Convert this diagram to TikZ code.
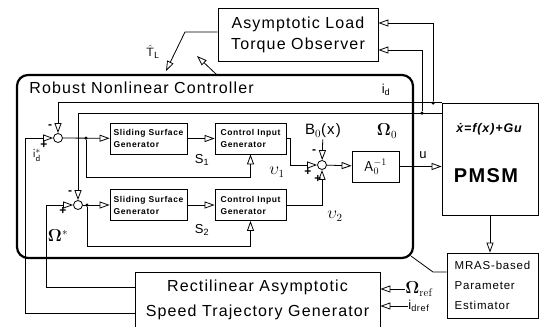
\documentclass[tikz,border=0pt]{standalone}
\usepackage[no-math]{fontspec}
\setmainfont{Liberation Sans}[LetterSpace=7]
\usetikzlibrary{arrows.meta}
\newcommand{\bigtxt}{\fontsize{16}{21}\selectfont}
\newcommand{\smalltxt}{\fontsize{8.5}{12}\selectfont\bfseries}
\begin{document}
\begin{tikzpicture}[x=1pt, y=-1pt, line width=0.8pt,
    blk/.style={draw, rectangle, inner sep=0pt, align=center},
    sblk/.style={blk, align=left, font=\smalltxt, minimum width=77pt, minimum height=31pt},
    sumj/.style={draw, circle, inner sep=0pt, minimum size=9pt},
    dot/.style={fill, circle, inner sep=0pt, minimum size=3.5pt},
    lbl/.style={inner sep=0pt, font=\fontsize{13}{14}\selectfont},
    omg/.style={inner sep=0pt, font=\fontsize{16}{16}\selectfont},
    sgn/.style={inner sep=0pt, font=\fontsize{12}{14}\selectfont\bfseries},
    tip/.style={-{Triangle[open, length=10pt, width=7pt]}}]
    \useasboundingbox (0,0) rectangle (547,327);
    % Controller frame
    \node[draw, line width=2.2pt, rounded corners=11pt, minimum width=396pt, minimum height=183pt] (ctrl) at (215,166.5) {};
    \node[anchor=west, inner sep=0pt, font=\bigtxt] (ctrltitle) at (29,88) {Robust Nonlinear Controller};
    % Blocks
    \node[blk, font=\bigtxt, minimum width=160pt, minimum height=53pt] (obs) at (298,34.5) {Asymptotic Load\\Torque Observer};
    \node[sblk] (ssg1) at (148.5,138.5) {Sliding Surface\\Generator};
    \node[sblk, minimum width=71pt] (cig1) at (250.5,138.5) {Control Input\\Generator};
    \node[sblk] (ssg2) at (148.5,205) {Sliding Surface\\Generator};
    \node[sblk, minimum width=71pt] (cig2) at (250.5,205) {Control Input\\Generator};
    \node[blk, font=\fontsize{14}{16}\selectfont, minimum width=47pt, minimum height=31pt] (ainv) at (375.5,166.5) {$\mathsf{A}_0^{-1}$};
    \node[blk, minimum width=96pt, minimum height=112pt] (pmsm) at (490,159) {};
    \node[anchor=west, inner sep=0pt, font=\fontsize{12.5}{16}\selectfont\bfseries\itshape] (pmsmeq) at (456,129) {\.{x}=f(x)+Gu};
    \node[inner sep=0pt, font=\fontsize{20}{22}\selectfont\bfseries] (pmsmname) at (486,176) {PMSM};
    \node[blk, align=left, font=\fontsize{11.5}{20}\selectfont, minimum width=91pt, minimum height=65pt] (mras) at (492.5,285.5) {MRAS-based\\Parameter\\Estimator};
    \node[blk, font=\fontsize{16}{25}\selectfont, minimum width=245pt, minimum height=56pt] (traj) at (257.5,300) {Rectilinear Asymptotic\\Speed Trajectory Generator};
    % Junctions
    \node[sumj] (sum1) at (58,138) {};
    \node[sumj] (sum2) at (78,205) {};
    \node[sumj] (sum3) at (322,165) {};
    \node[dot] (p1) at (86,138) {};
    \node[dot] (p2) at (87,205) {};
    \node[dot] (pid) at (433,103) {};
    \node[dot] (pw) at (422,113) {};
    % Labels
    \node[inner sep=1pt, font=\fontsize{15}{16}\selectfont] (bx) at (323,131) {B$_0$(x)};
    \node[lbl] (lid) at (386,90) {i\textsubscript{d}};
    \node[omg] (lw0) at (387,131) {$\mathbf{\Omega}_0$};
    \node[lbl] (lu) at (423,155) {u};
    \node[lbl] (ltl) at (153,52) {$\hat{\mathsf{T}}_{\mathsf{L}}$};
    \node[lbl] (ls1) at (202,160) {S\textsubscript{1}};
    \node[lbl] (ls2) at (202,230) {S\textsubscript{2}};
    \node[omg] (lv1) at (277,172) {$\upsilon_1$};
    \node[omg] (lv2) at (335,216) {$\upsilon_2$};
    \node[lbl] (lids) at (37,155) {$\mathsf{i}_{\mathsf{d}}^{*}$};
    \node[omg] (lws) at (58,236) {$\mathbf{\Omega}^*$};
    \node[omg, anchor=west] (wref) at (405,289) {$\mathbf{\Omega}_{\mathrm{ref}}$};
    \node[lbl, anchor=west] (idref) at (408,306) {i\textsubscript{dref}};
    % Signs
    \node[sgn] (s1m) at (50,127) {-};
    \node[sgn] (s1p) at (44,145) {+};
    \node[sgn] (s2m) at (70,193) {-};
    \node[sgn] (s2p) at (63,211) {+};
    \node[sgn] (s3m) at (314,152) {-};
    \node[sgn] (s3p) at (308,172) {+};
    \node[sgn] (s3q) at (318,179) {+};
    % Lines
    \draw[tip] (pmsm.north west) -| (sum1);
    \draw[tip] (pid) |- ([yshift=11.5pt]obs.east);
    \coordinate (w0src) at (pmsm.west |- pw);
    \draw[tip] (w0src) -| (sum2);
    \draw[tip] (pw) |- ([yshift=-15.5pt]obs.east);
    \coordinate (tlbend) at (185,32);
    \coordinate (tlend) at (166,71);
    \draw[tip] (obs.west |- tlbend) -- (tlbend) -- (tlend);
    \coordinate (fbstart) at (217,75);
    \coordinate (fbend) at (197,56);
    \draw[tip] (fbstart) -- (fbend);
    \draw[tip] ([yshift=-13pt]traj.west) -- ++(-109,0) |- (sum1);
    \draw[tip] ([yshift=13pt]traj.west) -- ++(-88,0) |- (sum2);
    \draw[tip] (sum1) -- (ssg1);
    \draw[tip] (p1) -- ++(0,39) -| (cig1);
    \draw[tip] (ssg1) -- (cig1);
    \draw[tip] (sum2) -- (ssg2);
    \draw[tip] (p2) -- ++(0,41) -| (cig2);
    \draw[tip] (ssg2) -- (cig2);
    \draw[tip] (cig1.east) -- ++(4,0) |- (sum3);
    \draw[tip] (cig2) -| (sum3);
    \draw[tip] (bx) -- (sum3);
    \draw[tip] (sum3) -- (ainv);
    \draw[tip] (ainv) -- (ainv -| pmsm.west);
    \draw[tip] (pmsm.south) -- (pmsm.south |- mras.north);
    \coordinate (mrasbend) at (433,272);
    \coordinate (ctrlcorner) at ([shift={(-3pt,3pt)}]ctrl.south east);
    \draw (mras.west |- mrasbend) -- (mrasbend) -- (ctrlcorner);
    \draw[tip] (wref) -- (wref -| traj.east);
    \draw[tip] (idref) -- (idref -| traj.east);
\end{tikzpicture}
\end{document}
